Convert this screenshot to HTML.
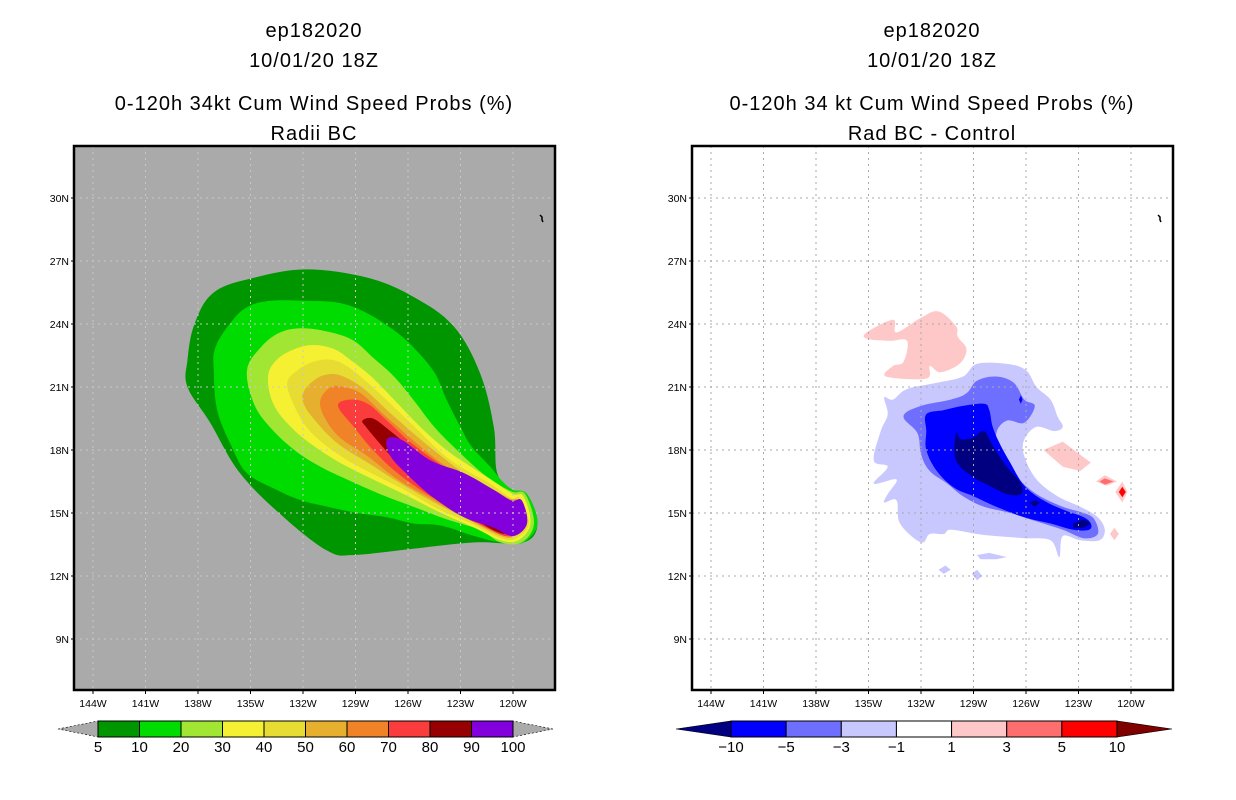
<!DOCTYPE html>
<html><head><meta charset="utf-8">
<style>
html,body{margin:0;padding:0;background:#fff;}
svg{display:block;font-family:"Liberation Sans",sans-serif;}
.t{font-size:20px;letter-spacing:1px;fill:#000;text-anchor:middle;}
.tk{font-size:10.5px;fill:#000;}
.cb{font-size:15px;fill:#000;text-anchor:middle;}
</style></head>
<body>
<svg id="fig" width="1236" height="800" viewBox="0 0 1236 800"></svg>
<script>
// ---------- data ----------
const lonTicks=[144,141,138,135,132,129,126,123,120];
const latTicks=[30,27,24,21,18,15,12,9];
const probLevels=[5,10,20,30,40,50,60,70,80,90,100];
const probColors=["#009600","#00dc00","#a0e632","#f5f032","#e6dc32","#e6af2d","#f08228","#fa3c3c","#960000","#8200dc"];
const diffLevels=[-10,-5,-3,-1,1,3,5,10];
const diffColors=["#0000ff","#6e6eff","#c8c8ff","#ffffff","#ffc8c8","#ff6e6e","#ff0000"];
const diffLow="#000080", diffHigh="#800000";
// probability contours [lonW, latN]
const p5=[[138.6,22.3],[138.2,24.0],[137.1,25.5],[134.8,26.2],[131.8,26.6],[128.3,26.2],[125.7,25.3],[123.4,23.9],[121.9,21.7],[121.1,19.1],[120.9,16.9],[120.0,16.0],[119.2,15.9],[118.6,14.5],[119.4,13.6],[122.2,13.6],[125.7,13.3],[129.1,13.0],[130.6,13.2],[133.1,14.8],[135.6,16.9],[137.3,19.3],[138.6,21.0]];
const p10=[[137.0,22.9],[136.1,24.1],[135.2,24.8],[133.9,25.1],[131.8,25.1],[129.9,25.0],[128.3,24.5],[126.8,23.7],[125.7,22.9],[124.5,21.7],[123.8,20.4],[123.0,19.1],[122.4,18.2],[121.3,17.2],[120.6,16.5],[120.0,16.1],[119.2,15.9],[118.6,14.5],[119.4,13.6],[120.7,13.6],[122.2,13.9],[124.1,14.4],[125.7,14.5],[127.2,14.8],[128.9,15.0],[130.6,15.3],[132.1,15.6],[133.5,16.1],[135.2,16.9],[136.1,18.2],[136.9,19.9],[137.1,21.7]];
const p20=[[135.2,21.8],[134.4,22.9],[133.3,23.6],[132.0,23.8],[130.4,23.6],[129.1,23.2],[128.0,22.4],[126.8,21.5],[125.7,20.4],[124.5,19.1],[123.2,18.0],[121.9,17.0],[120.9,16.4],[120.0,16.0],[119.3,15.9],[118.8,14.5],[119.5,13.6],[120.7,13.6],[121.9,14.2],[123.8,14.7],[125.7,15.3],[127.6,15.9],[129.5,16.6],[131.0,17.2],[132.5,18.0],[133.9,19.1],[134.8,20.2]];
const p30=[[134.0,21.5],[133.5,22.3],[132.5,22.8],[131.4,23.0],[130.2,22.8],[129.3,22.3],[128.1,21.5],[126.8,20.4],[125.3,19.1],[123.8,18.0],[122.4,17.2],[121.1,16.5],[120.0,15.9],[119.4,15.8],[119.0,14.5],[119.7,13.7],[120.7,13.7],[122.2,14.3],[124.1,15.0],[126.0,15.8],[128.0,16.6],[129.9,17.4],[131.4,18.2],[132.7,19.1],[133.7,20.2]];
const p40=[[132.9,21.2],[132.3,21.8],[131.4,22.2],[130.4,22.3],[129.5,22.0],[128.3,21.2],[127.0,20.2],[125.5,19.0],[124.0,17.8],[122.6,17.0],[121.3,16.4],[120.1,15.7],[119.6,15.7],[119.1,14.5],[119.8,13.8],[120.7,13.8],[122.4,14.5],[124.3,15.2],[126.2,16.1],[128.1,16.9],[130.0,17.8],[131.6,18.9],[132.5,20.1]];
const p50=[[132.0,20.7],[131.4,21.3],[130.6,21.6],[129.7,21.5],[128.5,20.9],[127.2,19.9],[125.7,18.8],[124.1,17.7],[122.8,16.9],[121.5,16.3],[120.2,15.7],[119.7,15.6],[119.2,14.5],[119.9,13.9],[120.7,13.9],[122.6,14.7],[124.5,15.5],[126.4,16.4],[128.3,17.4],[130.0,18.3],[131.2,19.3],[131.9,20.1]];
const p60=[[131.0,20.4],[130.4,21.0],[129.7,21.0],[128.7,20.7],[127.4,19.7],[125.9,18.6],[124.3,17.5],[123.0,16.8],[121.7,16.3],[120.3,15.6],[119.8,15.5],[119.4,14.5],[120.0,13.9],[120.7,14.0],[122.8,14.8],[124.7,15.7],[126.6,16.6],[128.3,17.7],[129.9,18.6],[130.8,19.6]];
const p70=[[130.0,20.1],[129.3,20.4],[128.3,20.2],[127.2,19.4],[125.9,18.4],[124.3,17.4],[123.0,16.7],[121.9,16.2],[120.4,15.5],[120.0,15.4],[119.5,14.5],[120.1,14.0],[120.8,14.0],[123.0,15.0],[124.9,15.9],[126.6,16.9],[128.0,18.0],[129.1,19.1]];
const p80=[[128.6,19.4],[128.0,19.5],[127.0,18.9],[125.7,18.0],[124.1,17.0],[122.8,16.5],[122.0,16.1],[120.5,15.4],[120.0,15.3],[119.7,14.5],[120.2,14.1],[120.9,14.1],[123.0,15.1],[124.9,16.1],[126.4,17.2],[127.6,18.3],[128.4,19.1]];
const p90=[[127.2,18.5],[126.4,18.5],[124.7,17.5],[122.8,16.9],[121.1,16.1],[120.1,15.6],[119.5,15.6],[119.2,14.5],[120.0,13.9],[121.1,14.3],[122.8,14.8],[124.5,15.7],[126.0,16.8],[127.0,17.7]];
const probPolys=[p5,p10,p20,p30,p40,p50,p60,p70,p80,p90];
// difference contours
const dPos1=[[135.1,23.6],[133.6,24.2],[133.4,23.6],[132.0,24.3],[131.0,24.6],[130.0,23.9],[129.9,23.4],[129.4,22.8],[129.8,22.1],[130.9,21.7],[131.5,22.0],[131.7,21.4],[134.0,21.5],[133.6,22.0],[133.0,22.2],[132.8,23.2],[133.8,23.2],[135.1,23.3]];
const dPos2=[[125.0,18.0],[123.9,18.4],[122.3,17.4],[122.9,17.0],[123.9,17.2]];
const dPos3=[[122.0,16.5],[121.5,16.8],[120.8,16.5],[121.4,16.3]];
const dPos4=[[120.9,16.0],[120.5,16.5],[120.2,16.0],[120.5,15.5]];
const dPos5=[[121.2,14.0],[120.95,14.3],[120.7,14.0],[120.95,13.7]];
const dMid3=[[121.8,16.5],[121.5,16.65],[121.0,16.5],[121.5,16.35]];
const dMid4=[[120.7,16.0],[120.5,16.25],[120.3,16.0],[120.5,15.75]];
const dNeg1=[[134.1,20.5],[133.6,20.4],[132.8,20.9],[131.1,21.2],[129.6,21.5],[128.8,22.1],[127.1,22.1],[126.0,21.8],[125.4,21.0],[124.6,20.4],[124.2,19.6],[123.9,19.1],[124.4,18.9],[125.4,19.1],[126.1,18.5],[126.1,17.7],[125.4,16.6],[124.2,15.8],[122.9,15.3],[121.9,14.8],[121.5,14.2],[121.8,13.7],[122.9,13.7],[123.9,13.9],[124.1,12.9],[124.6,13.7],[126.1,13.8],[127.7,13.9],[128.8,14.0],[130.3,14.2],[130.7,14.0],[131.5,14.0],[132.0,13.6],[133.2,14.5],[133.4,15.6],[134.1,15.5],[133.9,15.9],[133.4,16.6],[134.7,16.4],[133.9,17.2],[134.7,17.5],[134.3,18.9],[133.9,19.7]];
const dNeg1b=[[128.8,13.0],[128.1,13.1],[127.1,12.9],[127.7,12.8],[128.6,12.8]];
const dNeg1c=[[131.0,12.3],[130.6,12.5],[130.3,12.3],[130.7,12.1]];
const dNeg1d=[[129.1,12.1],[128.8,12.3],[128.5,12.0],[128.8,11.8]];
const dNeg3=[[133.0,19.6],[132.0,20.1],[130.3,20.4],[129.4,20.7],[128.8,21.3],[127.7,21.5],[126.7,21.2],[126.1,20.4],[125.5,20.1],[126.1,19.3],[127.1,19.4],[127.7,18.8],[127.5,17.8],[126.5,16.7],[125.4,15.9],[123.9,15.3],[122.7,15.0],[122.1,14.7],[121.9,14.0],[122.7,13.8],[123.9,14.2],[125.4,14.6],[126.9,15.0],[128.4,15.3],[129.6,15.8],[130.5,16.4],[131.5,17.0],[132.0,17.8],[132.2,18.8]];
const dNeg5=[[131.7,19.7],[130.7,19.9],[129.6,20.1],[128.4,20.2],[128.1,19.9],[127.9,19.1],[127.5,18.3],[126.9,17.4],[126.1,16.3],[125.0,15.6],[123.7,15.1],[122.7,14.8],[122.3,14.5],[122.4,14.2],[123.3,14.2],[124.6,14.5],[126.1,14.8],[127.7,15.3],[129.0,15.8],[130.1,16.2],[131.1,17.0],[131.7,18.0],[131.7,18.9]];
const dNeg10=[[130.0,18.8],[129.7,18.5],[129.0,18.6],[128.4,18.9],[127.9,18.2],[127.1,17.2],[126.3,16.4],[126.3,15.9],[127.1,15.9],[128.1,16.3],[129.0,16.7],[130.0,17.5]];
const dNeg10b=[[123.3,14.5],[122.7,14.7],[122.3,14.5],[122.7,14.3],[123.3,14.3]];
const dNeg10c=[[125.8,15.5],[125.5,15.6],[125.2,15.5],[125.5,15.3]];
const dNeg5b=[[126.4,20.4],[126.3,20.2],[126.2,20.4],[126.3,20.6]];

// ---------- axes ----------
const PX0=[74,692];
function X(lon,p){return PX0[p]+439-(lon-120)*17.5;}
function Y(lat){return 513-(lat-15)*21;}
const NS="http://www.w3.org/2000/svg";
const svg=document.getElementById('fig');
function el(tag,attrs,parent){const e=document.createElementNS(NS,tag);for(const k in attrs)e.setAttribute(k,attrs[k]);(parent||svg).appendChild(e);return e;}
function smoothPath(P){
  const n=P.length;let d=`M${P[0][0].toFixed(1)},${P[0][1].toFixed(1)}`;
  for(let i=0;i<n;i++){
    const p0=P[(i-1+n)%n],p1=P[i],p2=P[(i+1)%n],p3=P[(i+2)%n];
    const t=0.35/2;
    const c1=[p1[0]+(p2[0]-p0[0])*t,p1[1]+(p2[1]-p0[1])*t];
    const c2=[p2[0]-(p3[0]-p1[0])*t,p2[1]-(p3[1]-p1[1])*t];
    d+=` C${c1[0].toFixed(1)},${c1[1].toFixed(1)} ${c2[0].toFixed(1)},${c2[1].toFixed(1)} ${p2[0].toFixed(1)},${p2[1].toFixed(1)}`;
  }
  return d+'Z';
}
function poly(pts,p,fill,name,parent){
  const P=pts.map(q=>[X(q[0],p),Y(q[1])]);
  let e;
  if(pts.length>6){
    e=el('path',{d:smoothPath(P),fill:fill},parent);
  }else{
    e=el('polygon',{points:P.map(q=>q[0].toFixed(1)+','+q[1].toFixed(1)).join(' '),fill:fill},parent);
  }
  
  
  return e;
}
function text(x,y,s,cls,name,parent){const e=el('text',{x:x,y:y,class:cls},parent);e.textContent=s;
  
  
  return e;}

const titles=[["ep182020","10/01/20 18Z","0-120h 34kt Cum Wind Speed Probs (%)","Radii BC"],["ep182020","10/01/20 18Z","0-120h 34 kt Cum Wind Speed Probs (%)","Rad BC - Control"]];
const titleY=[37,67,110,140];
for(let p=0;p<2;p++){
  const g=el('g',{});
  
  
  const cx=PX0[p]+240;
  titles[p].forEach((s,i)=>text(cx,titleY[i],s,'t','panel-title',g));
  const cp=el('clipPath',{id:'clip'+p},g);
  el('rect',{x:PX0[p],y:146,width:481,height:544},cp);
  const bg=el('rect',{x:PX0[p],y:146,width:481,height:544,fill:p?'#ffffff':'#aaaaaa'},g);
  
  
  const cg=el('g',{'clip-path':'url(#clip'+p+')'},g);
  if(p===0){
    probPolys.forEach((pl,i)=>poly(pl,0,probColors[i],'prob-contour-'+probLevels[i],cg));
  }else{
    poly(dPos1,1,diffColors[4],'diff-pos-1',cg);
    poly(dPos2,1,diffColors[4],'diff-pos-1b',cg);
    poly(dPos3,1,diffColors[4],'diff-pos-1c',cg);
    poly(dMid3,1,diffColors[5],'diff-pos-3',cg);
    poly(dPos4,1,diffColors[4],'diff-pos-1d',cg);
    poly(dMid4,1,diffColors[6],'diff-pos-5',cg);
    poly(dPos5,1,diffColors[4],'diff-pos-1e',cg);
    poly(dNeg1,1,diffColors[2],'diff-neg-1',cg);
    poly(dNeg1b,1,diffColors[2],'diff-neg-1b',cg);
    poly(dNeg1c,1,diffColors[2],'diff-neg-1c',cg);
    poly(dNeg1d,1,diffColors[2],'diff-neg-1d',cg);
    poly(dNeg3,1,diffColors[1],'diff-neg-3',cg);
    poly(dNeg5,1,diffColors[0],'diff-neg-5',cg);
    poly(dNeg5b,1,diffColors[0],'diff-neg-5b',cg);
    poly(dNeg10,1,diffLow,'diff-neg-10',cg);
    poly(dNeg10b,1,diffLow,'diff-neg-10b',cg);
    poly(dNeg10c,1,diffLow,'diff-neg-10c',cg);
  }
  // grid
  lonTicks.forEach(l=>{const e=el('line',{x1:X(l,p),x2:X(l,p),y1:146,y2:690,stroke:p?'#aaaaaa':'#c8c8c8','stroke-width':1,'stroke-dasharray':'2,4'},cg);
    });
  latTicks.forEach(l=>{const e=el('line',{x1:PX0[p],x2:PX0[p]+481,y1:Y(l),y2:Y(l),stroke:p?'#aaaaaa':'#c8c8c8','stroke-width':1,'stroke-dasharray':'2,4'},cg);
    });
  // island
  el('path',{d:`M${PX0[p]+466},${215} l2,2 l0,3 l1,2`,stroke:'#000',fill:'none','stroke-width':1.5},g);
  const box=el('rect',{x:PX0[p],y:146,width:481,height:544,fill:'none',stroke:'#000','stroke-width':2.5},g);
  
  
  lonTicks.forEach(l=>{el('line',{x1:X(l,p),x2:X(l,p),y1:690,y2:694,stroke:'#000'},g);
    const t=text(X(l,p),707,l+'W','tk','x-tick-label',g);t.setAttribute('text-anchor','middle');});
  latTicks.forEach(l=>{el('line',{x1:PX0[p]-3,x2:PX0[p],y1:Y(l),y2:Y(l),stroke:'#000'},g);
    const t=text(PX0[p]-5,Y(l)+4,l+'N','tk','y-tick-label',g);t.setAttribute('text-anchor','end');});
}
// ---------- colorbars ----------
function colorbar(x0,x1,tl,tr,levels,colors,lowC,highC,name){
  const g=el('g',{});
  
  
  const y0=721,y1=737,ym=729,n=colors.length,w=(x1-x0)/n;
  el('polygon',{points:`${tl},${ym} ${x0},${y0} ${x0},${y1}`,fill:lowC,stroke:'#000','stroke-width':0.6,'stroke-dasharray':lowC==='#aaaaaa'?'2,2':''},g);
  el('polygon',{points:`${tr},${ym} ${x1},${y0} ${x1},${y1}`,fill:highC,stroke:'#000','stroke-width':0.6,'stroke-dasharray':highC==='#aaaaaa'?'2,2':''},g);
  colors.forEach((c,i)=>{const r=el('rect',{x:x0+i*w,y:y0,width:w,height:y1-y0,fill:c,stroke:'#000','stroke-width':1},g);
    });
  levels.forEach((v,i)=>text(x0+i*w,752,String(v).replace('-','\u2212'),'cb','colorbar-label',g));
}
colorbar(98,513,58,553,probLevels,probColors,'#aaaaaa','#aaaaaa','prob-colorbar');
colorbar(731,1117,676,1172,diffLevels,diffColors,diffLow,diffHigh,'diff-colorbar');
</script>
</body></html>
